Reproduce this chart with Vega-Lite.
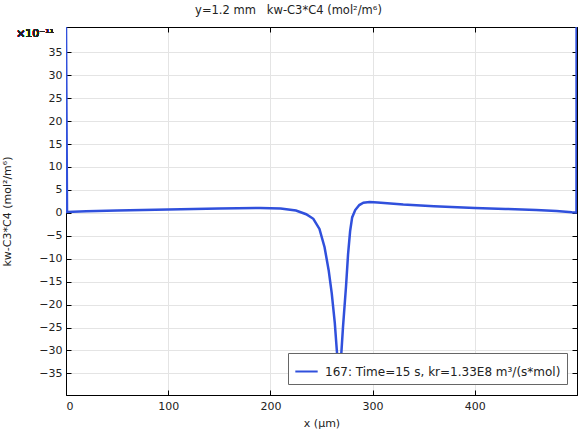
{
  "$schema": "https://vega.github.io/schema/vega-lite/v6.json",
  "width": 511,
  "height": 368,
  "autosize": {"type": "none"},
  "padding": {"left": 66, "top": 27, "right": 3, "bottom": 41},
  "background": "white",
  "config": {
    "font": "DejaVu Sans",
    "view": {"stroke": "#000", "strokeWidth": 1},
    "axis": {"labelFont": "DejaVu Sans", "titleFont": "DejaVu Sans", "labelFontSize": 11, "titleFontSize": 11, "titleFontWeight": "normal", "labelColor": "#222", "titleColor": "#222", "gridColor": "#e4e4e4", "gridWidth": 1, "domainColor": "#000", "tickColor": "#000"}
  },
  "title": {"text": "y=1.2 mm\u00a0\u00a0\u00a0kw-C3*C4 (mol²/m⁶)", "fontSize": 11.5, "fontWeight": "normal", "font": "DejaVu Sans", "color": "#222", "anchor": "middle", "frame": "group", "dx": -33, "offset": 5},
  "data": {"values": [
    {"x": 0, "y": 41}, {"x": 1, "y": 0.2}, {"x": 20, "y": 0.35}, {"x": 50, "y": 0.5}, {"x": 100, "y": 0.75},
    {"x": 150, "y": 0.95}, {"x": 190, "y": 1.05}, {"x": 210, "y": 0.95}, {"x": 225, "y": 0.5}, {"x": 235, "y": -0.3},
    {"x": 242, "y": -1.3}, {"x": 248, "y": -3.5}, {"x": 253, "y": -7.5}, {"x": 257, "y": -12.5}, {"x": 260, "y": -17.5},
    {"x": 263, "y": -24}, {"x": 265, "y": -30}, {"x": 267, "y": -35.5}, {"x": 269, "y": -32}, {"x": 271, "y": -25},
    {"x": 274, "y": -16}, {"x": 276, "y": -9}, {"x": 278, "y": -4}, {"x": 280, "y": -1}, {"x": 283, "y": 0.6},
    {"x": 287, "y": 1.7}, {"x": 291, "y": 2.2}, {"x": 297, "y": 2.35}, {"x": 305, "y": 2.25}, {"x": 330, "y": 1.8},
    {"x": 360, "y": 1.45}, {"x": 400, "y": 1.05}, {"x": 430, "y": 0.85}, {"x": 460, "y": 0.6}, {"x": 480, "y": 0.4},
    {"x": 495, "y": 0.15}, {"x": 499.5, "y": 0.1}, {"x": 499.6, "y": 41}
  ]},
  "layer": [
    {
      "mark": {"type": "line", "strokeWidth": 2.5, "clip": true},
      "encoding": {
        "x": {"field": "x", "type": "quantitative", "scale": {"domain": [0, 500], "nice": false, "zero": false},
          "axis": {"orient": "bottom", "values": [0, 100, 200, 300, 400], "tickSize": -5, "labelPadding": 10, "title": "x (µm)", "titlePadding": 6}},
        "y": {"field": "y", "type": "quantitative", "scale": {"domain": [-39.7, 40.5], "nice": false, "zero": false},
          "axis": {"orient": "left", "values": [-35, -30, -25, -20, -15, -10, -5, 0, 5, 10, 15, 20, 25, 30, 35], "tickSize": -5, "labelPadding": 9, "title": "kw-C3*C4 (mol²/m⁶)", "titlePadding": 26}},
        "color": {"datum": "167: Time=15 s, kr=1.33E8 m³/(s*mol)", "type": "nominal",
          "scale": {"range": ["#3050dc"]},
          "legend": {"title": null, "orient": "none", "legendX": 222, "legendY": 326, "fillColor": "white", "strokeColor": "#666", "padding": 6, "symbolType": "stroke", "symbolSize": 500, "symbolStrokeWidth": 2, "labelOffset": 6, "labelFontSize": 12, "labelFont": "DejaVu Sans", "labelColor": "#222", "labelLimit": 400}}
      }
    },
    {
      "mark": {"type": "text", "align": "right", "baseline": "middle", "dx": -12, "dy": 7, "fontSize": 11, "font": "DejaVu Sans", "color": "#222"},
      "encoding": {
        "x": {"datum": 0, "type": "quantitative", "axis": null},
        "y": {"datum": 40.5, "type": "quantitative", "axis": null},
        "text": {"value": "×10⁻¹¹"}
      }
    },
    {
      "mark": {"type": "point", "opacity": 0},
      "encoding": {
        "x": {"field": "x", "type": "quantitative", "axis": {"orient": "top", "values": [0, 100, 200, 300, 400], "tickSize": -5, "labels": false, "grid": false, "title": null}},
        "y": {"field": "y", "type": "quantitative", "axis": {"orient": "right", "values": [-35, -30, -25, -20, -15, -10, -5, 0, 5, 10, 15, 20, 25, 30, 35], "tickSize": -5, "labels": false, "grid": false, "title": null}}
      }
    }
  ],
  "resolve": {"axis": {"x": "independent", "y": "independent"}}
}
